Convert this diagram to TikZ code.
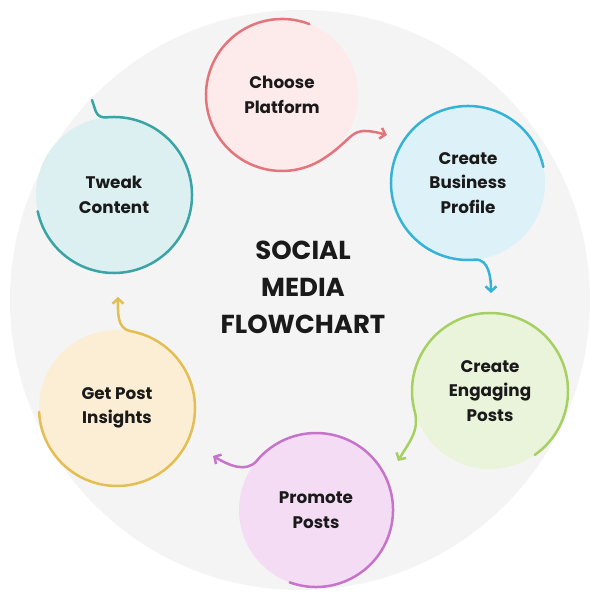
\documentclass[tikz,border=0pt]{standalone}
\usepackage{fontspec}
\setmainfont{Poppins}
\usetikzlibrary{arrows.meta}
\definecolor{bggray}{HTML}{F4F4F5}
\definecolor{pinkline}{HTML}{E5737A}
\definecolor{pinkfill}{HTML}{FDEAEB}
\definecolor{cyanline}{HTML}{35B3D6}
\definecolor{cyanfill}{HTML}{DCF2F8}
\definecolor{greenline}{HTML}{A6D062}
\definecolor{greenfill}{HTML}{EAF4DA}
\definecolor{purpleline}{HTML}{C674CA}
\definecolor{purplefill}{HTML}{F4DCF5}
\definecolor{yellowline}{HTML}{E3BE52}
\definecolor{yellowfill}{HTML}{FCEED4}
\definecolor{tealline}{HTML}{3AA4A4}
\definecolor{tealfill}{HTML}{DCF0F1}
\definecolor{inktext}{HTML}{1A1A1A}
\begin{document}
\begin{tikzpicture}[x=1pt,y=1pt,
  bubble/.style={circle, minimum size=#1, inner sep=0pt, outer sep=0pt, align=center,
    font=\fontsize{16.8}{24.5}\selectfont\bfseries, text=inktext},
  ring/.style={draw=#1, line width=2.5pt, line cap=round},
  tipped/.style={-{Straight Barb[length=5pt,width=11pt]}},
  titletext/.style={align=center, font=\fontsize{26}{37}\selectfont\bfseries, text=inktext}]
\useasboundingbox (0,0) rectangle (589,593);
\fill[white] (0,0) rectangle (589,593);
\fill[bggray] (300,293) circle[radius=290pt];

% nodes
\node[bubble=152pt, fill=pinkfill] (cp) at (282,498) {Choose\\Platform};
\node[bubble=154pt, fill=cyanfill] (cbp) at (468,410) {Create\\Business\\Profile};
\node[bubble=156pt, fill=greenfill] (cep) at (490,202) {Create\\Engaging\\Posts};
\node[bubble=154pt, fill=purplefill] (pp) at (316,83) {Promote\\Posts};
\node[bubble=156pt, fill=yellowfill] (gpi) at (117,185) {Get Post\\Insights};
\node[bubble=156pt, fill=tealfill] (tc) at (114,398) {Tweak\\Content};
\node[titletext] (title) at (303,306) {SOCIAL\\MEDIA\\FLOWCHART};

% curl ends
\coordinate (cpTip) at (387,458);
\coordinate (cbpTip) at (491,300);
\coordinate (cepTip) at (398,132);
\coordinate (ppTip) at (213,137);
\coordinate (gpiTip) at (118,296);
\coordinate (tcEnd) at (92,493);

% rings with curls
\draw[ring=pinkline, tipped] (cp.69) arc[start angle=69, end angle=303, radius=76pt]
  to[out=33, in=165, looseness=1.5] (cpTip);
\draw[ring=cyanline, tipped] (cbp.12) arc[start angle=12, end angle=275, radius=77pt]
  to[out=5, in=90] (cbpTip);
\draw[ring=greenline, tipped] (cep.-55) arc[start angle=-55, end angle=195, radius=78pt]
  to[out=285, in=60] (cepTip);
\draw[ring=purpleline, tipped] (pp.250) arc[start angle=250, end angle=500, radius=77pt]
  to[out=230, in=-30] (ppTip);
\draw[ring=yellowline, tipped] (gpi.183) arc[start angle=183, end angle=440, radius=78pt]
  to[out=170, in=-90] (gpiTip);
\draw[ring=tealline] (tc.192) arc[start angle=192, end angle=455, radius=78pt]
  to[out=185, in=-70, looseness=1.3] (tcEnd);
\end{tikzpicture}
\end{document}
